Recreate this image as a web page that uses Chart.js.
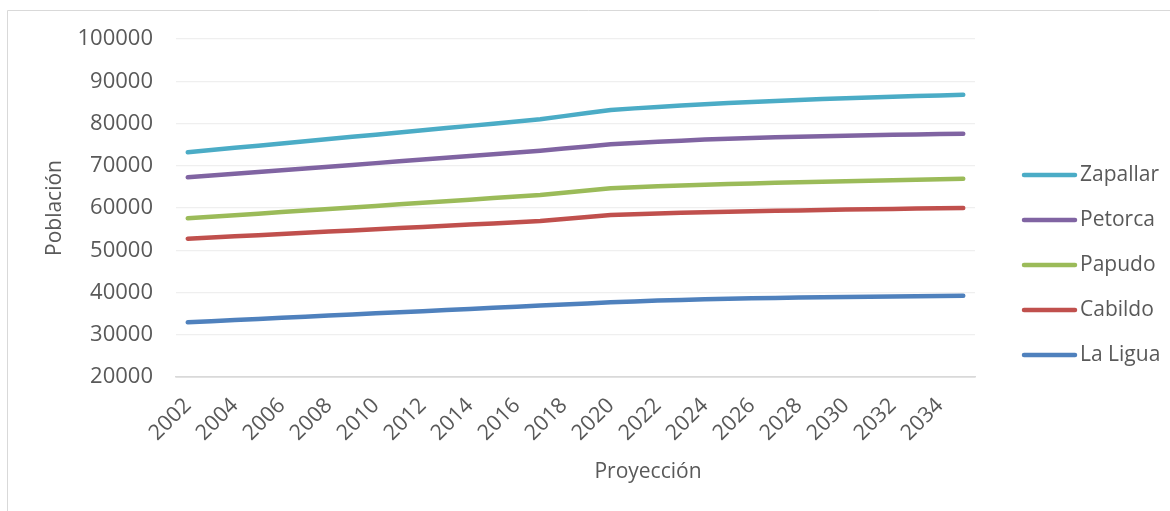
<!DOCTYPE html>
<html>
<head>
<meta charset="utf-8">
<script src="https://cdn.jsdelivr.net/npm/chart.js@4.4.1/dist/chart.umd.min.js"></script>
<style>
html,body{margin:0;padding:0;background:#fff;overflow:hidden}
#wrap{position:relative;width:1170px;height:511px}
</style>
</head>
<body>
<div id="wrap"><canvas id="c" width="1170" height="511"></canvas></div>
<script>
// ---- Data ----
const years = ['2002','2003','2004','2005','2006','2007','2008','2009','2010','2011','2012','2013','2014','2015','2016','2017','2018','2019','2020','2021','2022','2023','2024','2025','2026','2027','2028','2029','2030','2031','2032','2033','2034','2035'];
const tickLabels = ['2002','2004','2006','2008','2010','2012','2014','2016','2018','2020','2022','2024','2026','2028','2030','2032','2034'];
const yTicks = [20000,30000,40000,50000,60000,70000,80000,90000,100000];

const laLigua  = [32940,33200,33470,33730,34000,34260,34530,34790,35060,35320,35580,35850,36110,36380,36640,36900,37160,37420,37680,37890,38080,38250,38410,38550,38640,38725,38805,38880,38950,39015,39075,39130,39185,39240];
const cabildo  = [52730,53010,53290,53570,53850,54130,54410,54690,54960,55240,55520,55800,56080,56360,56640,56920,57390,57870,58340,58540,58710,58860,59000,59120,59230,59335,59435,59530,59620,59705,59785,59860,59930,60000];
const papudo   = [57560,57930,58300,58660,59030,59400,59770,60140,60500,60870,61240,61610,61970,62340,62710,63075,63600,64130,64660,64900,65120,65320,65510,65680,65825,65965,66100,66230,66355,66475,66595,66710,66820,66930];
const petorca  = [67270,67690,68110,68530,68950,69370,69790,70200,70620,71040,71460,71880,72300,72720,73140,73560,74060,74570,75070,75390,75680,75945,76185,76400,76570,76720,76860,76985,77100,77210,77310,77405,77500,77590];
const zapallar = [73200,73720,74240,74760,75280,75800,76320,76840,77360,77880,78400,78920,79440,79960,80480,81000,81750,82480,83200,83580,83930,84250,84550,84835,85100,85345,85575,85790,85985,86170,86340,86500,86650,86790];

const seriesNames = ['La Ligua','Cabildo','Papudo','Petorca','Zapallar'];
const seriesColors = ['#4F81BD','#C0504D','#9BBB59','#8064A2','#4BACC6'];
const seriesValues = [laLigua, cabildo, papudo, petorca, zapallar];

const xTitle = 'Proyección';
const yTitle = 'Población';

const FONT = "'Open Sans', 'Liberation Sans', sans-serif";
const TXT = '#595959';

const decor = {
  id: 'decor',
  beforeDraw(chart) {
    const ctx = chart.ctx;
    ctx.save();
    ctx.strokeStyle = '#d9d9d9';
    ctx.lineWidth = 1;
    ctx.beginPath();
    ctx.moveTo(7.5, 511);
    ctx.lineTo(7.5, 10.5);
    ctx.lineTo(1170, 10.5);
    ctx.stroke();
    ctx.restore();
  },
  afterDraw(chart) {
    const ctx = chart.ctx;
    const ca = chart.chartArea;
    ctx.save();
    ctx.fillStyle = TXT;
    ctx.font = "21px " + FONT;
    ctx.textAlign = 'center';
    ctx.textBaseline = 'middle';
    ctx.fillText(xTitle, 648, 472);
    ctx.save();
    ctx.translate(55, (ca.top + ca.bottom) / 2);
    ctx.rotate(-Math.PI / 2);
    ctx.fillText(yTitle, 0, 0);
    ctx.restore();
    const ds = chart.data.datasets;
    ctx.textAlign = 'left';
    for (let k = 0; k < ds.length; k++) {
      const d = ds[ds.length - 1 - k];
      const y = 175 + k * 45;
      ctx.strokeStyle = d.borderColor;
      ctx.lineWidth = 4.5;
      ctx.lineCap = 'round';
      ctx.beginPath();
      ctx.moveTo(1024, y);
      ctx.lineTo(1075, y);
      ctx.stroke();
      ctx.fillText(d.label, 1080, y);
    }
    ctx.restore();
  }
};

new Chart(document.getElementById('c'), {
  type: 'line',
  data: {
    labels: years,
    datasets: seriesNames.map((n, i) => ({
      label: n,
      data: seriesValues[i],
      borderColor: seriesColors[i],
      backgroundColor: seriesColors[i],
      borderWidth: 4.5,
      borderCapStyle: 'round',
      borderJoinStyle: 'round',
      pointRadius: 0,
      tension: 0,
      fill: false
    }))
  },
  options: {
    responsive: false,
    animation: false,
    devicePixelRatio: 1,
    layout: { padding: { left: 0, right: 195, top: 39, bottom: 0 } },
    plugins: { legend: { display: false }, tooltip: { enabled: false }, title: { display: false } },
    scales: {
      x: {
        type: 'category',
        offset: true,
        grid: { display: false, drawTicks: false },
        border: { display: true, color: '#d9d9d9', width: 1.5 },
        ticks: {
          autoSkip: false,
          minRotation: 45,
          maxRotation: 45,
          padding: 16,
          color: TXT,
          font: { family: FONT, size: 21.5 },
          callback: function(v, i) { const l = years[i]; return tickLabels.includes(l) ? l : null; }
        },
        afterFit(s) { s.height = 511 - 377; }
      },
      y: {
        min: yTicks[0],
        max: yTicks[yTicks.length - 1],
        afterBuildTicks(s) { s.ticks = yTicks.map(v => ({ value: v })); },
        grid: {
          drawTicks: false,
          color: (c) => (c.tick && c.tick.value === yTicks[0]) ? '#d9d9d9' : '#efefef',
          lineWidth: (c) => (c.tick && c.tick.value === yTicks[0]) ? 1.5 : 1.2
        },
        border: { display: false },
        ticks: {
          padding: 23,
          color: TXT,
          font: { family: FONT, size: 22 },
          callback: (v) => String(v)
        },
        afterFit(s) { s.width = 176; }
      }
    }
  },
  plugins: [decor]
});
</script>
</body>
</html>
